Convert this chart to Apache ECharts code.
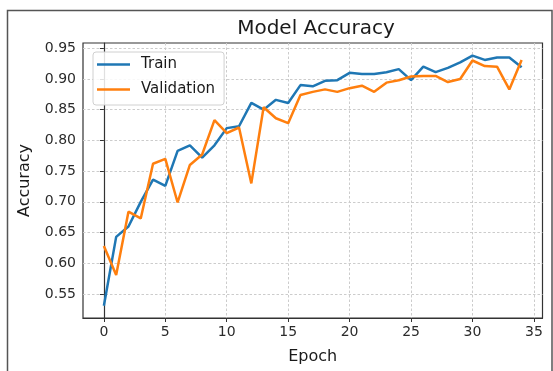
<!DOCTYPE html>
<html>
<head>
<meta charset="utf-8">
<script src="https://cdn.jsdelivr.net/npm/echarts@6/dist/echarts.min.js"></script>
<style>
  html, body { margin: 0; padding: 0; background: #ffffff; }
  #chart { width: 553px; height: 371px; }
</style>
</head>
<body>
<div id="chart"></div>
<script>
// Training history: accuracy per epoch
const epochs = Array.from({ length: 35 }, (_, i) => i);
const trainAcc = [
  0.531, 0.643, 0.660, 0.700, 0.736, 0.726, 0.783, 0.792, 0.772, 0.792,
  0.820, 0.823, 0.861, 0.850, 0.866, 0.861, 0.890, 0.888, 0.897, 0.898,
  0.910, 0.908, 0.908, 0.911, 0.916, 0.898, 0.920, 0.911, 0.918, 0.927,
  0.938, 0.931, 0.935, 0.935, 0.919
];
const valAcc = [
  0.628, 0.581, 0.684, 0.673, 0.762, 0.770, 0.699, 0.760, 0.777, 0.833,
  0.812, 0.821, 0.730, 0.854, 0.836, 0.828, 0.874, 0.879, 0.883, 0.879,
  0.885, 0.889, 0.879, 0.894, 0.898, 0.904, 0.905, 0.905, 0.895, 0.900,
  0.930, 0.921, 0.920, 0.883, 0.931
];
const xTicks = [0, 5, 10, 15, 20, 25, 30, 35];
const yTicks = [0.55, 0.60, 0.65, 0.70, 0.75, 0.80, 0.85, 0.90, 0.95];

const FONT = 'DejaVu Sans';
const INK = '#2b2b2b';

const chart = echarts.init(document.getElementById('chart'), null, { renderer: 'canvas' });

const gridLine = { show: true, lineStyle: { color: '#cccccc', type: [2.5, 2], width: 1 } };

chart.setOption({
  animation: false,
  backgroundColor: '#ffffff',
  title: {
    text: 'Model Accuracy',
    left: 311,
    top: 14,
    textAlign: 'center',
    textStyle: { fontFamily: FONT, fontSize: 20, fontWeight: 'normal', color: '#1a1a1a' }
  },
  graphic: [{
    type: 'rect',
    shape: { x: 7.5, y: 10.5, width: 544.5, height: 400 },
    style: { fill: 'none', stroke: '#555555', lineWidth: 1.5 },
    silent: true
  }],
  grid: {
    left: 83, top: 43, right: 10.5, bottom: 53,
    show: true, borderColor: '#333333', borderWidth: 1.2, backgroundColor: 'transparent'
  },
  legend: {
    orient: 'vertical',
    left: 93, top: 52,
    padding: [4, 9, 7, 4],
    itemGap: 8,
    itemWidth: 33,
    itemHeight: 2.6,
    icon: 'rect',
    borderColor: '#d0d0d0',
    borderWidth: 1,
    borderRadius: 3,
    backgroundColor: 'rgba(255,255,255,0.85)',
    textStyle: { fontFamily: FONT, fontSize: 15, color: '#1a1a1a', lineHeight: 17, padding: [0, 0, 0, 6] },
    data: ['Train', 'Validation']
  },
  xAxis: {
    type: 'value',
    min: -1.7, max: 35.7,
    name: 'Epoch',
    nameLocation: 'middle',
    nameGap: 31,
    nameTextStyle: { fontFamily: FONT, fontSize: 16, color: '#1a1a1a' },
    axisLine: { show: true, lineStyle: { color: '#333333', width: 1.2 } },
    axisTick: { show: true, length: 4, customValues: xTicks, lineStyle: { color: '#333333' } },
    axisLabel: { customValues: xTicks, margin: 7, fontFamily: FONT, fontSize: 14, color: INK },
    splitLine: gridLine
  },
  yAxis: {
    type: 'value',
    min: 0.511, max: 0.9585,
    name: 'Accuracy',
    nameLocation: 'middle',
    nameRotate: 90,
    nameGap: 50,
    nameTextStyle: { fontFamily: FONT, fontSize: 16, color: '#1a1a1a' },
    axisLine: { show: true, lineStyle: { color: '#333333', width: 1.2 } },
    axisTick: { show: true, length: 4, customValues: yTicks, lineStyle: { color: '#333333' } },
    axisLabel: {
      customValues: yTicks, margin: 7, fontFamily: FONT, fontSize: 14, color: INK,
      formatter: v => v.toFixed(2)
    },
    splitLine: gridLine
  },
  series: [
    {
      name: 'Train', type: 'line',
      data: epochs.map((e, i) => [e, trainAcc[i]]),
      symbol: 'none',
      lineStyle: { color: '#1f77b4', width: 2.5 },
      itemStyle: { color: '#1f77b4' },
      z: 3
    },
    {
      name: 'Validation', type: 'line',
      data: epochs.map((e, i) => [e, valAcc[i]]),
      symbol: 'none',
      lineStyle: { color: '#ff7f0e', width: 2.5 },
      itemStyle: { color: '#ff7f0e' },
      z: 4
    }
  ]
});
</script>
</body>
</html>
